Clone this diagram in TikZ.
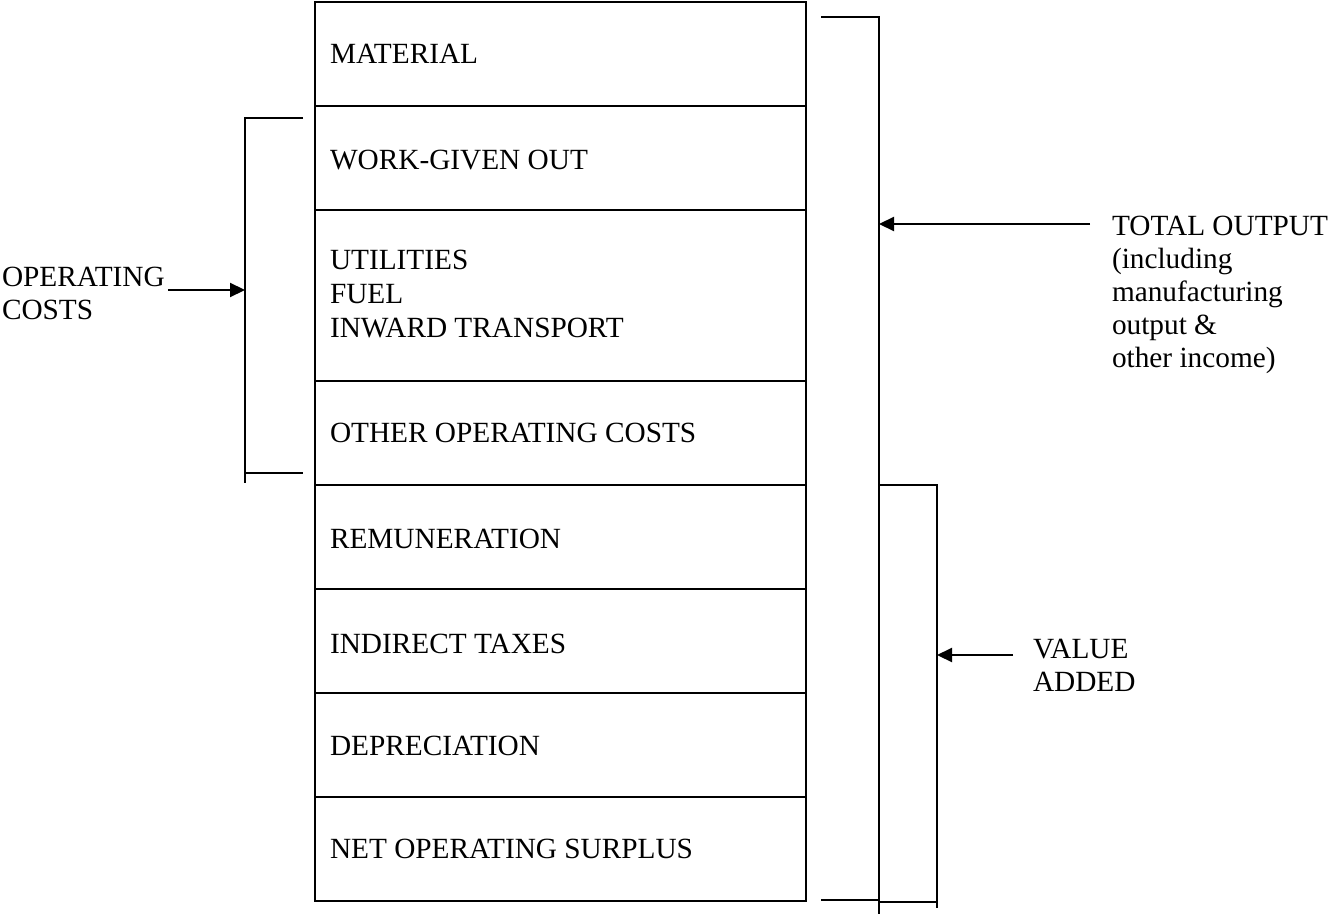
\documentclass[tikz,border=0pt]{standalone}
\usepackage{fontspec}
\setmainfont{Liberation Serif}
\usetikzlibrary{arrows.meta}
\tikzset{
  lbl/.style={anchor=base west, inner sep=0pt, outer sep=0pt,
    font=\fontsize{29.3}{33.5}\selectfont},
  line/.style={line width=2.2pt},
  row/.style={line width=2.2pt},
  arr/.style={line width=2.2pt, -{Triangle[length=15pt,width=14pt]}}
}
\begin{document}
\begin{tikzpicture}[x=1pt,y=-1pt]
\useasboundingbox (0,0) rectangle (1328,915);
% rows of the main column
\foreach \a/\b in {2/106,106/210,210/381,381/485,485/589,589/693,693/797,797/901}
  \draw[row] (315,\a) rectangle (806,\b);
% row texts
\node[lbl] (material) at (330,64) {MATERIAL};
\node[lbl] (work) at (330,169) {WORK-GIVEN OUT};
\node[lbl] (util) at (330,269) {UTILITIES};
\node[lbl] (fuel) at (330,303) {FUEL};
\node[lbl] (inward) at (330,337) {INWARD TRANSPORT};
\node[lbl] (other) at (330,442) {OTHER OPERATING COSTS};
\node[lbl] (remun) at (330,548) {REMUNERATION};
\node[lbl] (taxes) at (330,653) {INDIRECT TAXES};
\node[lbl] (depr) at (330,755) {DEPRECIATION};
\node[lbl] (nos) at (330,858) {NET OPERATING SURPLUS};
% left bracket: operating costs
\coordinate (lbT) at (245,118);
\coordinate (lbB) at (245,483);
\draw[line] (303,118) -- (lbT) -- (lbB);
\draw[line] (245,473) -- (303,473);
\node[lbl] (opc1) at (2,286) {OPERATING};
\node[lbl] (opc2) at (2,319) {COSTS};
\coordinate (opcS) at (168,290);
\coordinate (opcE) at (245,290);
\draw[arr] (opcS) -- (opcE);
% right bracket: total output
\coordinate (tbT) at (879,17);
\coordinate (tbB) at (879,914);
\draw[line] (821,17) -- (tbT) -- (tbB);
\draw[line] (821,900) -- (879,900);
\node[lbl] (tot1) at (1112,235) {TOTAL OUTPUT};
\node[lbl] (tot2) at (1112,268) {(including};
\node[lbl] (tot3) at (1112,301) {manufacturing};
\node[lbl] (tot4) at (1112,334) {output \&};
\node[lbl] (tot5) at (1112,367) {other income)};
\coordinate (totS) at (1090,224);
\coordinate (totE) at (879,224);
\draw[arr] (totS) -- (totE);
% value added bracket
\coordinate (vbT) at (937,485);
\coordinate (vbB) at (937,908);
\draw[line] (879,485) -- (vbT) -- (vbB);
\draw[line] (879,902) -- (937,902);
\node[lbl] (va1) at (1033,658) {VALUE};
\node[lbl] (va2) at (1033,691) {ADDED};
\coordinate (vaS) at (1013,655);
\coordinate (vaE) at (937,655);
\draw[arr] (vaS) -- (vaE);
\end{tikzpicture}
\end{document}
